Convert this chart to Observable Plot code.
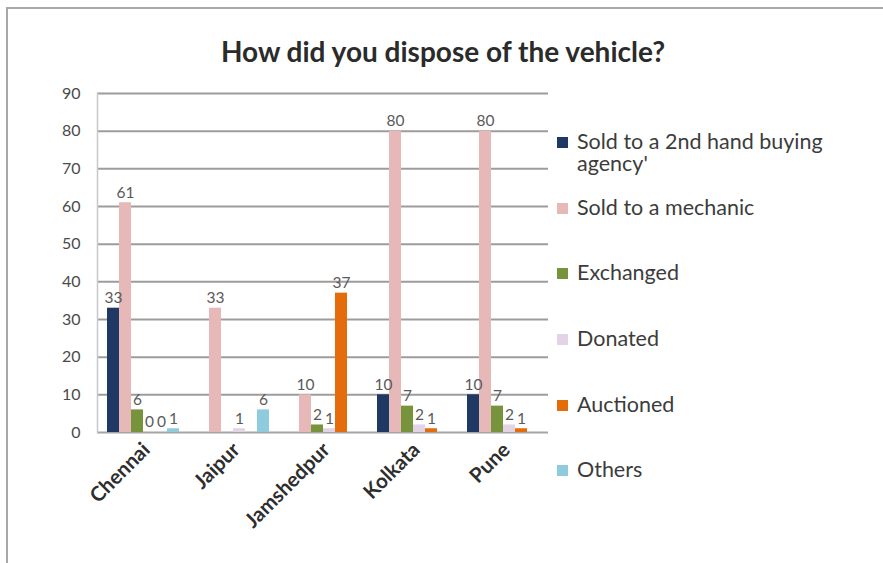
<!DOCTYPE html>
<html>
<head>
<meta charset="utf-8">
<script src="https://cdn.jsdelivr.net/npm/d3@7"></script>
<script src="https://cdn.jsdelivr.net/npm/@observablehq/plot@0.6"></script>
<style>
  html, body { margin: 0; padding: 0; background: #fff; }
  #wrap { position: relative; width: 883px; height: 563px; overflow: hidden; background: #fff; font-family: Lato, "Open Sans", sans-serif; }
  #frame { position: absolute; left: 6px; top: 7px; right: 0; bottom: 0; border-top: 2px solid #a8a8a8; border-left: 2px solid #a8a8a8; }
  #title { position: absolute; left: 0; width: 886px; top: 34px; text-align: center; font-weight: bold; font-size: 28px; color: #2b2b2b; }
  .layer { position: absolute; left: 0; top: 80px; }
  #legend { position: absolute; left: 557px; top: 130px; width: 320px; }
  .item { display: flex; align-items: flex-start; height: 65.7px; }
  .sw { width: 11px; height: 11px; margin-top: 7px; margin-right: 9px; flex: none; }
  .lab { font-size: 21.5px; line-height: 22px; color: #3c3c3c; max-width: 275px; }
</style>
</head>
<body>
<div id="wrap">
  <div id="frame"></div>
  <div id="title">How did you dispose of the vehicle?</div>
  <div id="bg" class="layer"></div>
  <div id="fg" class="layer"></div>
  <div id="legend"></div>
</div>
<script>
// ---- data ----
const cities = ["Chennai", "Jaipur", "Jamshedpur", "Kolkata", "Pune"];
const series = ["Sold to a 2nd hand buying agency'", "Sold to a mechanic", "Exchanged", "Donated", "Auctioned", "Others"];
const seriesColors = ["#1f3864", "#e6b9b8", "#77933c", "#e2d3e6", "#e46c0a", "#8ecbdd"];
const agency    = [33, null, null, 10, 10];
const mechanic  = [61, 33, 10, 80, 80];
const exchanged = [6, null, 2, 7, 7];
const donated   = [0, 1, 1, 2, 2];
const auctioned = [0, null, 37, 1, 1];
const others    = [1, 6, null, null, null];
const yTicks = [0, 10, 20, 30, 40, 50, 60, 70, 80, 90];
const gridTicks = [10, 20, 30, 40, 50, 60, 70, 80, 90];

const valuesBySeries = [agency, mechanic, exchanged, donated, auctioned, others];
const data = [];
cities.forEach((city, i) => {
  series.forEach((s, j) => {
    const v = valuesBySeries[j][i];
    if (v !== null && v !== undefined) data.push({city, series: s, value: v});
  });
});

const common = {
  width: 560, height: 470,
  marginLeft: 97, marginRight: 12, marginTop: 13, marginBottom: 118,
  style: {fontFamily: "Lato, 'Open Sans', sans-serif", background: "transparent", overflow: "visible"}
};

const bg = Plot.plot({
  ...common,
  x: {domain: cities, paddingInner: 0.2, paddingOuter: 0.1, label: null},
  y: {domain: [0, 90], label: null},
  marks: [
    Plot.gridY(gridTicks, {stroke: "#9c9c9c", strokeOpacity: 1, strokeWidth: 2}),
    Plot.ruleY([0], {stroke: "#a4a4a4", strokeWidth: 2}),
    Plot.frame({anchor: "left", stroke: "#c8c8c8", strokeWidth: 1.5}),
    Plot.axisY(yTicks, {tickSize: 0, tickPadding: 17, fontSize: 16, fill: "#4a4a4a", label: null}),
    Plot.axisX({tickSize: 0, tickRotate: -45, tickPadding: 14, dx: 3, fontSize: 20.5, fontWeight: "bold", fill: "#2e2e2e", label: null})
  ]
});
document.getElementById("bg").appendChild(bg);

const fg = Plot.plot({
  ...common,
  fx: {domain: cities, paddingInner: 0.2, paddingOuter: 0.1, axis: null, label: null},
  x: {domain: series, padding: 0, axis: null},
  y: {domain: [0, 90], axis: null},
  color: {domain: series, range: seriesColors},
  marks: [
    Plot.barY(data, {fx: "city", x: "series", y: "value", fill: "series"}),
    Plot.text(data, {fx: "city", x: "series", y: "value", text: d => String(d.value), dy: -10, fontSize: 15.5, fill: "#5a5a5a"})
  ]
});
document.getElementById("fg").appendChild(fg);

// legend
const legend = document.getElementById("legend");
series.forEach((s, j) => {
  const item = document.createElement("div");
  item.className = "item";
  const sw = document.createElement("div");
  sw.className = "sw";
  sw.style.background = seriesColors[j];
  const lab = document.createElement("div");
  lab.className = "lab";
  lab.textContent = s;
  item.appendChild(sw);
  item.appendChild(lab);
  legend.appendChild(item);
});
</script>
</body>
</html>
